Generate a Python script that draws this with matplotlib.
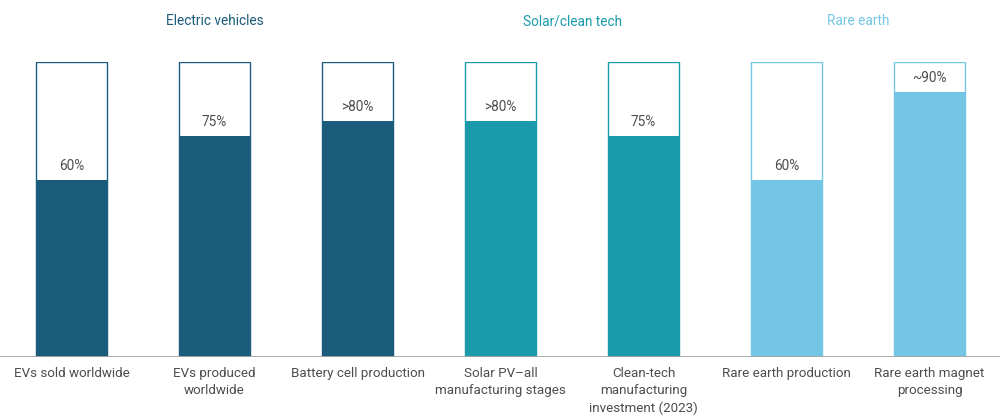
import matplotlib.pyplot as plt

categories = ["EVs sold worldwide", "EVs produced\nworldwide", "Battery cell production",
              "Solar PV\u2013all\nmanufacturing stages", "Clean-tech\nmanufacturing\ninvestment (2023)",
              "Rare earth production", "Rare earth magnet\nprocessing"]
values = [60, 75, 80, 80, 75, 60, 90]
value_labels = ["60%", "75%", ">80%", ">80%", "75%", "60%", "~90%"]
groups = [0, 0, 0, 1, 1, 2, 2]
group_names = ["Electric vehicles", "Solar/clean tech", "Rare earth"]
group_colors = ["#1b5b7b", "#1a9aab", "#74c6e6"]
label_color = "#4d4d4d"

plt.rcParams['font.family'] = ['Roboto', 'DejaVu Sans']

fig = plt.figure(figsize=(10, 4.19), dpi=100)
ax = fig.add_axes([0, 0.148, 1, 0.704])
x = list(range(len(values)))
w = 0.503
for i, v in enumerate(values):
    c = group_colors[groups[i]]
    ax.bar(i, 100, width=w, facecolor="white", edgecolor=c, linewidth=1.0, zorder=1)
    ax.bar(i, v, width=w, color=c, linewidth=0, zorder=2)
    ax.annotate(value_labels[i], (i, v), xytext=(0, 5), textcoords="offset points",
                ha="center", va="bottom", fontsize=9.8, color=label_color)
    ax.annotate(categories[i], (i, 0), xytext=(0, -7), textcoords="offset points",
                ha="center", va="top", fontsize=9.6, color=label_color,
                linespacing=1.45, annotation_clip=False)

ax.set_xlim(-0.5, 6.493)
ax.set_ylim(0, 100)
ax.axhline(0, color="#a6a6a6", linewidth=2, zorder=3)
ax.axis("off")

# group headings above the bars
for g, name in enumerate(group_names):
    members = [i for i in x if groups[i] == g]
    xc = sum(members) / len(members)
    ax.text(xc, 113.8, name, ha="center", va="center", fontsize=9.8,
            color=group_colors[g], clip_on=False)

fig.savefig("out.png", dpi=100, facecolor="white")
